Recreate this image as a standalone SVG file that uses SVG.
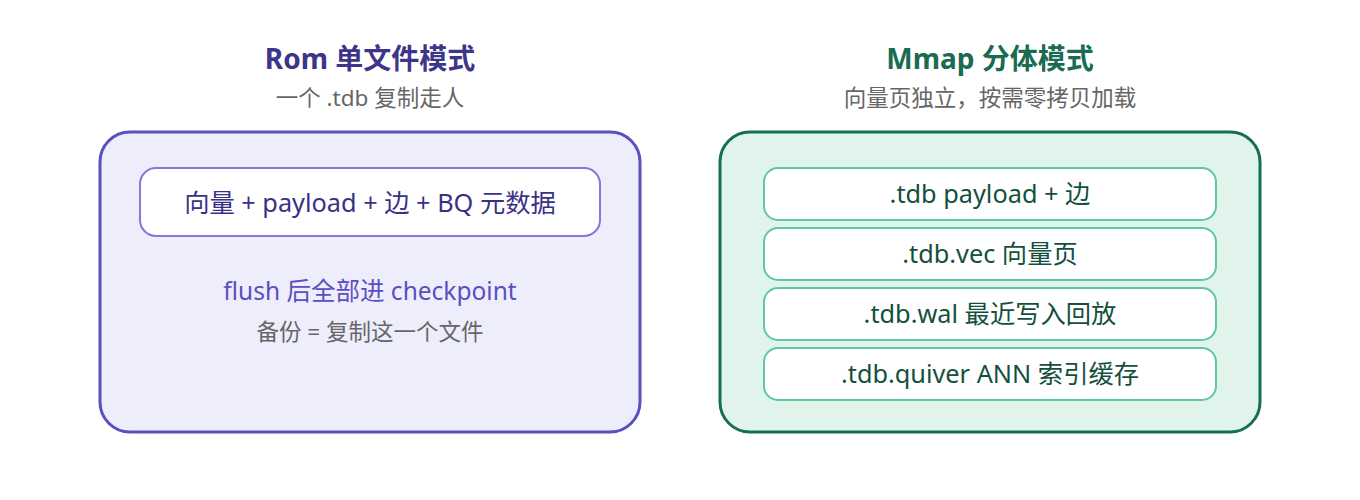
<svg xmlns="http://www.w3.org/2000/svg" width="1360" height="500" viewBox="0 0 1360 500">
<style>
text{font-family:"Noto Sans","Noto Sans CJK SC",sans-serif;text-anchor:middle}
.title{font-size:28px;font-weight:700}
.sub{font-size:22.5px;fill:#666}
.lbl{font-size:25.3px}
.outerL{fill:#eeedfc;stroke:#5a4fc0;stroke-width:3}
.innerL{fill:#fff;stroke:#8577de;stroke-width:2}
.outerR{fill:#e1f4ec;stroke:#166e54;stroke-width:3}
.innerR{fill:#fff;stroke:#5fc8a0;stroke-width:2}
.tL{fill:#3a3185}
.tR{fill:#13503d}
</style>
<rect width="1360" height="500" fill="#fff"/>
<g id="rom">
<text class="title" x="370" y="69" fill="#3d3589">Rom 单文件模式</text>
<text class="sub" x="370" y="106">一个 .tdb 复制走人</text>
<rect class="outerL" x="100" y="132" width="540" height="300" rx="30"/>
<g id="rom-file">
<rect class="innerL" x="140" y="168" width="460" height="68" rx="16"/>
<text class="lbl tL" x="370" y="212">向量 + payload + 边 + BQ 元数据</text>
</g>
<text x="370" y="300" fill="#5a4fc0" font-size="24.5">flush 后全部进 checkpoint</text>
<text class="sub" x="370" y="340">备份 = 复制这一个文件</text>
</g>
<g id="mmap">
<text class="title" x="990" y="69" fill="#1a6b52">Mmap 分体模式</text>
<text class="sub" x="990" y="106">向量页独立，按需零拷贝加载</text>
<rect class="outerR" x="720" y="132" width="540" height="300" rx="30"/>
<g id="mmap-tdb">
<rect class="innerR" x="764" y="168" width="452" height="52" rx="14"/>
<text class="lbl tR" x="990" y="203">.tdb payload + 边</text>
</g>
<g id="mmap-vec">
<rect class="innerR" x="764" y="228" width="452" height="52" rx="14"/>
<text class="lbl tR" x="990" y="263">.tdb.vec 向量页</text>
</g>
<g id="mmap-wal">
<rect class="innerR" x="764" y="288" width="452" height="52" rx="14"/>
<text class="lbl tR" x="990" y="323">.tdb.wal 最近写入回放</text>
</g>
<g id="mmap-quiver">
<rect class="innerR" x="764" y="348" width="452" height="52" rx="14"/>
<text class="lbl tR" x="990" y="383">.tdb.quiver ANN 索引缓存</text>
</g>
</g>
<g id="connectors"/>
</svg>
